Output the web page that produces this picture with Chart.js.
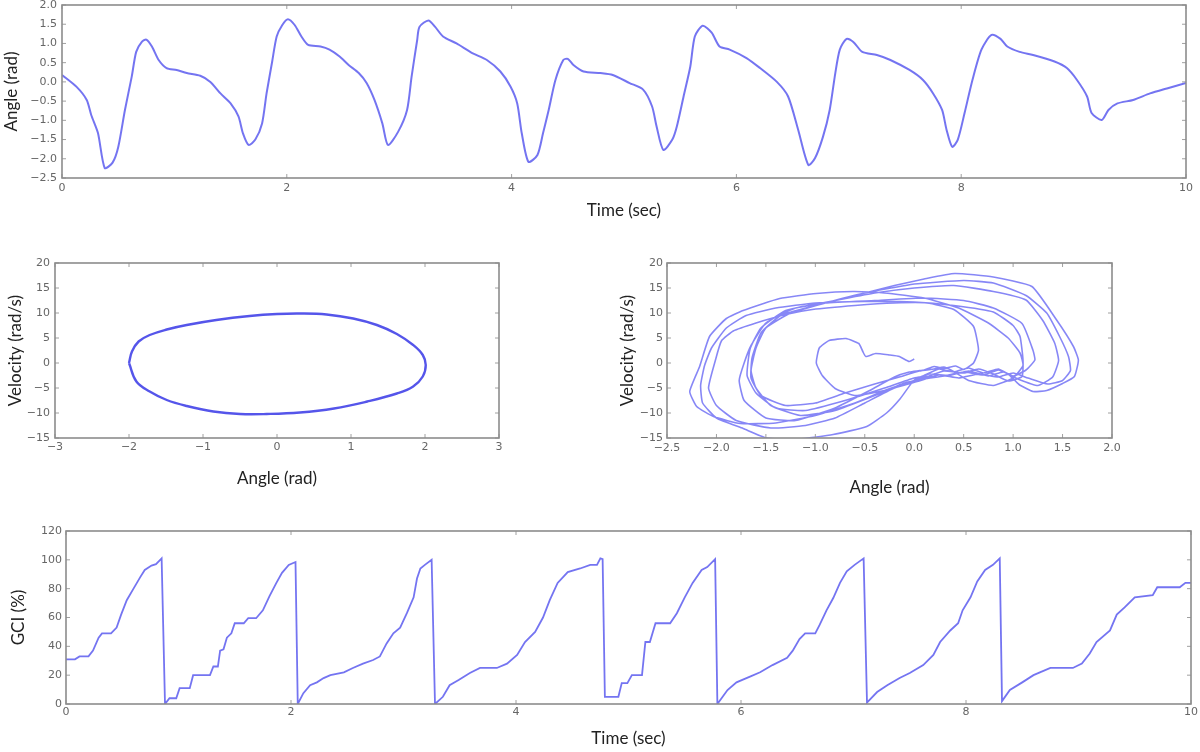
<!DOCTYPE html>
<html lang="en">
<head>
<meta charset="UTF-8">
<title>Angle, phase portraits and GCI</title>
<script src="https://cdn.jsdelivr.net/npm/chart.js"></script>
<style>
  body { margin: 0; background: #fff; }
  .panel { position: absolute; }
</style>
</head>
<body>
<div class="panel" style="left:0;top:0;width:1200px;height:230px"><canvas id="angleChart"></canvas></div>
<div class="panel" style="left:0;top:245px;width:600px;height:255px"><canvas id="ellipseChart"></canvas></div>
<div class="panel" style="left:600px;top:245px;width:600px;height:255px"><canvas id="phaseChart"></canvas></div>
<div class="panel" style="left:0;top:500px;width:1200px;height:252px"><canvas id="gciChart"></canvas></div>

<script>
// angle over time (top panel)
const angleTime = [0,0.13,0.22,0.26,0.32,0.38,0.45,0.5,0.56,0.62,
  0.66,0.71,0.75,0.8,0.86,0.93,1.02,1.11,1.23,1.32,
  1.41,1.5,1.57,1.61,1.66,1.72,1.78,1.82,1.87,1.91,
  1.96,2.01,2.07,2.13,2.19,2.3,2.38,2.47,2.55,2.64,
  2.71,2.78,2.85,2.9,2.99,3.07,3.11,3.16,3.18,3.26,
  3.32,3.39,3.51,3.65,3.78,3.9,3.99,4.05,4.09,4.15,
  4.23,4.28,4.33,4.39,4.46,4.5,4.55,4.64,4.79,4.9,
  5.05,5.17,5.25,5.29,5.35,5.43,5.47,5.53,5.59,5.63,
  5.7,5.78,5.85,5.94,6.09,6.21,6.36,6.46,6.55,6.64,
  6.7,6.77,6.83,6.88,6.92,6.98,7.04,7.12,7.25,7.37,
  7.54,7.66,7.75,7.83,7.87,7.92,7.97,8.03,8.1,8.18,
  8.27,8.35,8.41,8.52,8.64,8.83,8.94,9.03,9.12,9.16,
  9.25,9.31,9.39,9.53,9.68,9.83,10];
const angleRad = [0.18,-0.13,-0.47,-0.86,-1.33,-2.24,-2.1,-1.7,-0.73,0.13,
  0.78,1.04,1.1,0.92,0.57,0.36,0.31,0.23,0.16,0.0,
  -0.3,-0.56,-0.9,-1.34,-1.64,-1.5,-1.08,-0.3,0.53,1.18,
  1.48,1.63,1.48,1.18,0.96,0.92,0.84,0.66,0.44,0.23,
  -0.03,-0.47,-1.08,-1.64,-1.3,-0.73,0.13,1.09,1.43,1.6,
  1.43,1.18,1.0,0.75,0.57,0.27,-0.12,-0.56,-1.33,-2.08,
  -1.9,-1.33,-0.73,0.05,0.57,0.6,0.44,0.27,0.23,0.18,
  -0.03,-0.2,-0.64,-1.16,-1.77,-1.5,-1.16,-0.38,0.4,1.18,
  1.46,1.28,0.92,0.84,0.62,0.36,0.0,-0.38,-1.25,-2.16,
  -1.98,-1.43,-0.73,0.23,0.84,1.12,1.04,0.78,0.7,0.57,
  0.31,0.05,-0.3,-0.73,-1.25,-1.69,-1.5,-0.81,0.05,0.84,
  1.22,1.12,0.92,0.78,0.7,0.53,0.36,0.05,-0.38,-0.81,
  -0.99,-0.73,-0.56,-0.47,-0.3,-0.17,-0.03];

// ideal phase portrait (middle left)
const ellipseAngle = [-2.0,-1.96,-1.87,-1.72,-1.49,-1.22,-0.82,-0.37,0.0,0.31,0.67,1.03,1.35,1.62,1.84,1.97,2.01,
  1.97,1.84,1.62,1.22,0.77,0.31,-0.14,-0.5,-0.86,-1.22,-1.49,-1.72,-1.9,-2.0];
const ellipseVelocity = [0,2.3,4.3,5.6,6.7,7.6,8.6,9.4,9.8,9.9,9.7,8.9,7.6,5.8,3.6,1.6,-0.4,
  -2.7,-4.7,-6.1,-7.7,-9.1,-9.9,-10.2,-10.2,-9.7,-8.6,-7.4,-5.7,-3.7,0];

// measured phase portrait (middle right)
const phaseAngle = [0.18,0.0,-0.3,-0.6,-1.0,-1.4,-1.76,-2.03,-2.2,-2.27,
  -2.17,-2.07,-1.9,-1.73,-1.36,-0.99,-0.62,-0.3,0.1,0.45,0.75,0.95,1.07,1.1,1.0,0.8,0.55,0.38,0.3,0.2,0.05,-0.15,-0.4,-0.7,-1.0,-1.3,-1.55,-1.65,
  -1.64,-1.55,-1.35,-1.0,-0.6,-0.2,0.1,0.41,0.8,1.19,1.44,1.61,1.66,1.62,1.5,1.34,1.2,1.06,0.95,0.85,0.7,0.5,0.3,0.1,-0.1,-0.4,-0.8,-1.15,-1.45,-1.6,-1.65,
  -1.6,-1.5,-1.25,-0.9,-0.5,0.0,0.5,0.8,1.13,1.34,1.47,1.56,1.58,1.5,1.35,1.15,1.0,0.85,0.65,0.45,0.25,0.05,-0.2,-0.5,-0.8,-1.1,-1.45,-1.8,-2.0,-2.08,
  -2.01,-1.95,-1.83,-1.6,-1.3,-1.03,-0.6,-0.2,0.13,0.4,0.6,0.65,0.6,0.5,0.42,0.3,0.2,0.1,-0.05,-0.2,-0.45,-0.8,-1.2,-1.5,-1.72,-1.77,
  -1.72,-1.65,-1.5,-1.2,-0.8,-0.4,0.0,0.4,0.8,1.13,1.3,1.42,1.46,1.4,1.25,1.05,0.9,0.75,0.55,0.35,0.15,0.0,-0.14,-0.28,-0.48,-0.82,-1.16,-1.49,-1.73,-2.0,-2.14,-2.16,
  -2.12,-2.05,-1.9,-1.7,-1.4,-1.0,-0.5,0.0,0.4,0.8,1.0,1.07,1.1,1.09,0.95,0.8,0.65,0.5,0.3,0.15,0.0,-0.3,-0.7,-1.1,-1.4,-1.6,-1.69,
  -1.66,-1.55,-1.3,-0.9,-0.4,0.1,0.5,0.8,1.09,1.2,1.22,1.13,1.0,0.85,0.7,0.55,0.4,0.25,0.1,0.0,-0.3,-0.6,-0.8,-0.93,-0.99,
  -0.96,-0.86,-0.69,-0.56,-0.52,-0.49,-0.39,-0.25,-0.15,-0.05,0.0];
const phaseVelocity = [-2.5,-3.5,-5.5,-8,-10.5,-12,-12.1,-10.7,-8.7,-5.7,
  -0.7,5.3,8.9,10.5,12.9,13.9,14.3,14,13,11,8,5,2,-0.5,-3,-4.5,-3.5,-1.5,-0.8,-1.2,-1.6,-2.8,-4.2,-6,-8,-8.5,-6.5,-3,
  1,6,9.5,11.5,13.5,15.5,16.8,17.9,17.2,15.3,8.6,3.3,0.6,-2.7,-4.1,-5.5,-5.7,-4.3,-2.2,-1.4,-2.4,-1.8,-2.6,-3.2,-4,-6.5,-9.5,-10.5,-8.5,-5,-1.5,
  3,7,10,12,14,15.8,16.5,16,13.5,10,5.3,1.3,-1.5,-3.5,-4.2,-3,-2,-2.8,-2.2,-3,-2.4,-3.6,-5,-8,-11,-12.5,-13,-11.5,-8.5,-5,
  0.6,4.4,6.4,8.0,9.7,10.7,11.5,12,12,10.7,7.3,2.6,0,-1.3,-0.6,-1.1,-0.7,-1.4,-1.8,-2.8,-5.5,-9,-11.5,-11,-7.5,-3.5,
  0,3.5,8,11,12.5,14,15,15.5,14.3,12.6,8.5,4,0.5,-2.8,-4.5,-3.2,-1.8,-2.6,-1.6,-2.5,-2.2,-3.4,-7.1,-10,-12.7,-14.3,-15.2,-15,-13.1,-11,-8,-4.5,
  -0.5,3,7,9.5,11,12,12.3,12.2,11.5,10.2,7.5,5.3,0.6,-2.7,-3.6,-2.2,-1.2,-2,-1.6,-2.6,-3,-5,-7.5,-9.5,-9,-6,-2.5,
  2.8,7,10.5,12,12.5,13,12.5,11,7.9,2.6,0.6,-1.4,-2.6,-1.2,-2,-1,-1.8,-1.2,-2.5,-3.5,-5.5,-6.5,-5.1,-2.5,0,
  3,4.5,4.9,3.9,2.3,1.3,1.9,1.6,1.3,0.3,0.8];

// gait cycle index (bottom panel)
const gciTime = [0,0.08,0.12,0.2,0.24,0.29,0.32,0.4,0.45,0.49,0.54,0.6,0.66,0.7,0.76,0.8,0.85,0.88,
  0.92,0.98,1.01,1.1,1.13,1.28,1.31,1.35,1.37,1.4,1.43,1.47,1.5,1.58,1.62,1.69,1.75,1.81,1.87,1.92,1.98,2.04,2.06,
  2.11,2.17,2.23,2.29,2.35,2.47,2.55,2.64,2.73,2.79,2.85,2.91,2.97,3.03,3.09,3.12,3.15,3.19,3.25,3.28,
  3.35,3.41,3.49,3.59,3.68,3.83,3.92,4.01,4.08,4.17,4.24,4.3,4.37,4.46,4.57,4.66,4.72,4.75,4.77,4.79,
  4.91,4.94,4.99,5.03,5.12,5.15,5.19,5.24,5.37,5.43,5.5,5.57,5.65,5.7,5.77,5.79,
  5.88,5.96,6.08,6.17,6.28,6.41,6.46,6.52,6.57,6.66,6.7,6.76,6.82,6.88,6.94,7.01,7.09,7.12,
  7.21,7.3,7.41,7.5,7.62,7.71,7.77,7.86,7.93,7.97,8.04,8.1,8.17,8.24,8.3,8.32,
  8.39,8.5,8.6,8.75,8.95,9.03,9.1,9.16,9.28,9.34,9.41,9.5,9.66,9.7,9.9,9.95,10];
const gciPercent = [31,31,33,33,37,46,49,49,53,62,72,80,88,93,96,97,101,0,
  4,4,11,11,20,20,26,26,37,38,46,49,56,56,59.5,59.5,65,75,84,91,96.5,98.5,0,
  7.5,13,15,18,20,22,25,28,30.5,33,42,49,53,63,74,87,94,96.5,100,0,
  5,13,16.6,21.5,25,25,28,34,43,50,60,72,84,91.5,94,96.5,96.5,101,100.5,5,
  5,14.5,14.5,20,20,43,43,56,56,63,74,84,93,95,100.5,0,
  9.7,15,19,22,27,32,37,45,49,49,55,65,73.5,84,92,96.5,101,1,
  8.3,13,18,21.5,27,34,43,51,56,65,74,85,93,96.5,101,2,
  9.7,15,20,25,25,28,35,43,51,62,67,74,75.5,81,81,84,84];

const lineColor = 'rgba(62, 62, 235, 0.72)';
const tickColor = '#666';
const titleColor = '#222';

Chart.defaults.font.family = 'DejaVu Sans';
Chart.defaults.animation = false;

function toPoints(xs, ys) {
    return xs.map((x, i) => ({ x: x, y: ys[i] }));
}

function minusSign(text) {
    return String(text).replace('-', '\u2212');
}

// matplotlib-like frame with inward tick marks
const framePlugin = {
    id: 'frame',
    afterDraw(chart) {
        const { ctx, chartArea } = chart;
        const { left, top, right, bottom } = chartArea;
        const xs = chart.scales.x, ys = chart.scales.y;
        ctx.save();
        ctx.strokeStyle = '#a0a0a0';
        ctx.lineWidth = 1;
        ctx.beginPath();
        xs.ticks.forEach(t => {
            const px = xs.getPixelForValue(t.value);
            ctx.moveTo(px, top); ctx.lineTo(px, top + 4);
            ctx.moveTo(px, bottom); ctx.lineTo(px, bottom - 4);
        });
        ys.ticks.forEach(t => {
            const py = ys.getPixelForValue(t.value);
            ctx.moveTo(left, py); ctx.lineTo(left + 4, py);
            ctx.moveTo(right, py); ctx.lineTo(right - 4, py);
        });
        ctx.stroke();
        ctx.strokeStyle = '#8c8c8c';
        ctx.lineWidth = 1.6;
        ctx.strokeRect(left, top, right - left, bottom - top);
        ctx.restore();
    }
};

function axis(o) {
    return {
        type: 'linear',
        min: o.min,
        max: o.max,
        grid: { display: false, drawTicks: false },
        border: { display: false },
        ticks: {
            stepSize: o.step,
            padding: o.tickPad,
            color: tickColor,
            font: { size: 11 },
            callback: v => minusSign(o.digits ? Number(v).toFixed(o.digits) : v)
        },
        title: {
            display: true,
            text: o.title,
            color: titleColor,
            font: { family: 'Lato', size: 17 },
            padding: o.titlePad
        },
        afterFit(scale) {
            if (scale.isHorizontal()) scale.height = o.size;
            else scale.width = o.size;
            scale.paddingLeft = 0; scale.paddingRight = 0;
            scale.paddingTop = 0; scale.paddingBottom = 0;
        }
    };
}

function makeChart(id, points, padding, xAxis, yAxis, style) {
    return new Chart(document.getElementById(id), {
        type: 'scatter',
        data: {
            datasets: [{
                data: points,
                showLine: true,
                pointRadius: 0,
                borderColor: style.color,
                borderWidth: style.width,
                tension: style.tension
            }]
        },
        options: {
            responsive: true,
            maintainAspectRatio: false,
            layout: { padding: padding },
            plugins: { legend: { display: false }, tooltip: { enabled: false } },
            scales: { x: xAxis, y: yAxis }
        },
        plugins: [framePlugin]
    });
}

makeChart('angleChart', toPoints(angleTime, angleRad),
    { left: 0, top: 5, right: 14, bottom: 0 },
    axis({ min: 0, max: 10, step: 2, tickPad: 4, title: 'Time (sec)', titlePad: { top: 0, bottom: 9 }, size: 52 }),
    axis({ min: -2.5, max: 2, step: 0.5, digits: 1, tickPad: 5, title: 'Angle (rad)', titlePad: { top: 1, bottom: 0 }, size: 62 }),
    { color: lineColor, width: 2, tension: 0.25 });

makeChart('ellipseChart', toPoints(ellipseAngle, ellipseVelocity),
    { left: 0, top: 18, right: 101, bottom: 0 },
    axis({ min: -3, max: 3, step: 1, tickPad: 3, title: 'Angle (rad)', titlePad: { top: 0, bottom: 11 }, size: 62 }),
    axis({ min: -15, max: 20, step: 5, tickPad: 5, title: 'Velocity (rad/s)', titlePad: { top: 5, bottom: 0 }, size: 55 }),
    { color: 'rgba(55, 55, 230, 0.85)', width: 2.4, tension: 0.4 });

makeChart('phaseChart', toPoints(phaseAngle, phaseVelocity),
    { left: 0, top: 18, right: 88, bottom: 0 },
    axis({ min: -2.5, max: 2, step: 0.5, digits: 1, tickPad: 4, title: 'Angle (rad)', titlePad: { top: 0, bottom: 2 }, size: 62 }),
    axis({ min: -15, max: 20, step: 5, tickPad: 4, title: 'Velocity (rad/s)', titlePad: { top: 17, bottom: 0 }, size: 67 }),
    { color: 'rgba(55, 55, 240, 0.6)', width: 1.6, tension: 0.15 });

makeChart('gciChart', toPoints(gciTime, gciPercent),
    { left: 0, top: 31, right: 9, bottom: 0 },
    axis({ min: 0, max: 10, step: 2, tickPad: 2, title: 'Time (sec)', titlePad: { top: 0, bottom: 3 }, size: 48 }),
    axis({ min: 0, max: 120, step: 20, tickPad: 4, title: 'GCI (%)', titlePad: { top: 8, bottom: 0 }, size: 66 }),
    { color: lineColor, width: 1.8, tension: 0 });
</script>
</body>
</html>
